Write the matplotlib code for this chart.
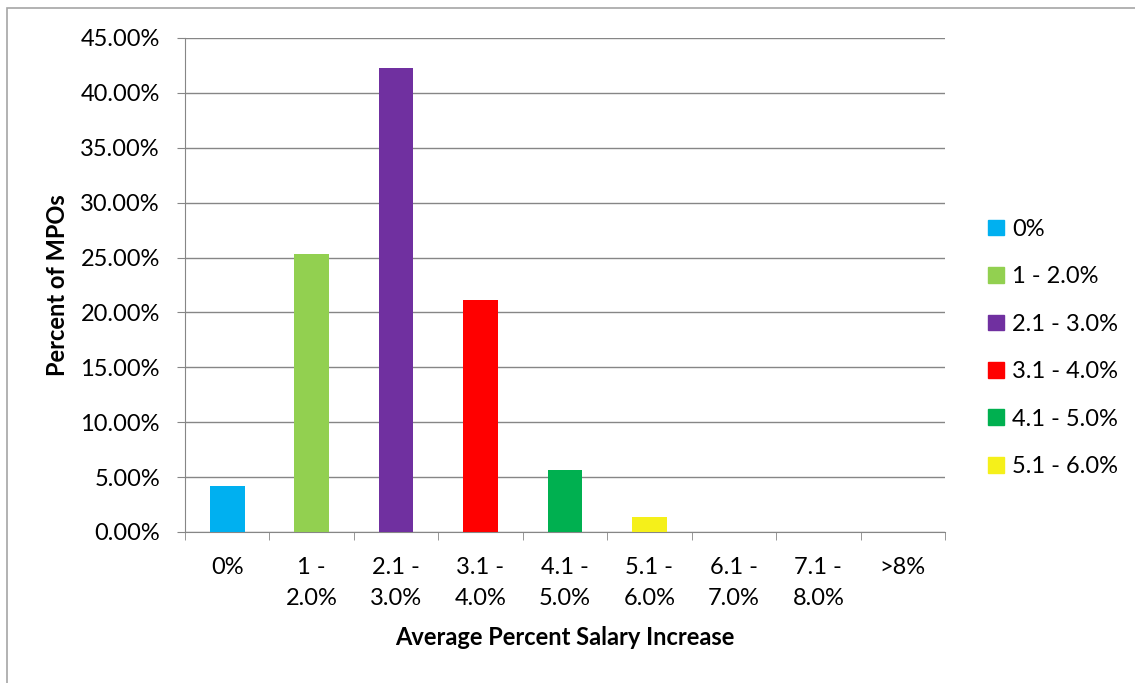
import matplotlib.pyplot as plt
from matplotlib.patches import Patch, Rectangle
from matplotlib.ticker import MultipleLocator, FuncFormatter

categories = ["0%", "1 -\n2.0%", "2.1 -\n3.0%", "3.1 -\n4.0%", "4.1 -\n5.0%",
              "5.1 -\n6.0%", "6.1 -\n7.0%", "7.1 -\n8.0%", ">8%"]
values = [4.23, 25.35, 42.25, 21.13, 5.63, 1.41, 0.0, 0.0, 0.0]
legend_labels = ["0%", "1 - 2.0%", "2.1 - 3.0%", "3.1 - 4.0%", "4.1 - 5.0%", "5.1 - 6.0%"]
colors = ["#00B0F0", "#92D050", "#7030A0", "#FF0000", "#00B050", "#F5F01A",
          "#4F81BD", "#C0504D", "#9BBB59"]

plt.rcParams['font.family'] = ['Lato', 'DejaVu Sans']
plt.rcParams['font.size'] = 17

fig = plt.figure(figsize=(11.35, 6.83), dpi=100)
W, H = 1135, 683
ax = fig.add_axes([185 / W, 1 - 532 / H, 760 / W, 494 / H])

# outer chart border
fig.patches.append(Rectangle((7 / W, -0.1), 1.2, 1 - 8 / H + 0.1, transform=fig.transFigure,
                             fill=False, edgecolor="#A6A6A6", linewidth=1.2))

x = list(range(len(categories)))
ax.bar(x, values, width=0.41, color=colors, zorder=3)

ax.set_xlim(-0.5, len(categories) - 0.5)
ax.set_ylim(0, 45)
ax.yaxis.set_major_locator(MultipleLocator(5))
ax.yaxis.set_major_formatter(FuncFormatter(lambda v, p: "%.2f%%" % v))
ax.grid(axis="y", color="#868686", linewidth=1, zorder=0)

ax.set_xticks(x)
ax.set_xticklabels(categories, linespacing=1.6, va="top")
ax.set_xticks([i - 0.5 for i in range(len(categories) + 1)], minor=True)
ax.tick_params(axis="x", which="major", length=0, pad=18)
ax.tick_params(axis="x", which="minor", length=6, color="#868686")
ax.tick_params(axis="y", length=6, color="#868686", pad=12)

for s in ["top", "right"]:
    ax.spines[s].set_visible(False)
for s in ["left", "bottom"]:
    ax.spines[s].set_color("#868686")

ax.set_ylabel("Percent of MPOs", fontweight="bold", labelpad=8)
ax.set_xlabel("Average Percent Salary Increase", fontweight="bold", labelpad=12)

handles = [Patch(color=colors[i]) for i in range(len(legend_labels))]
fig.legend(handles, legend_labels, loc="center left", bbox_to_anchor=(967 / W, 1 - 348 / H),
           frameon=False, handlelength=0.65, handleheight=0.65, handletextpad=0.35,
           labelspacing=1.12)

fig.savefig("out.png", dpi=100)
